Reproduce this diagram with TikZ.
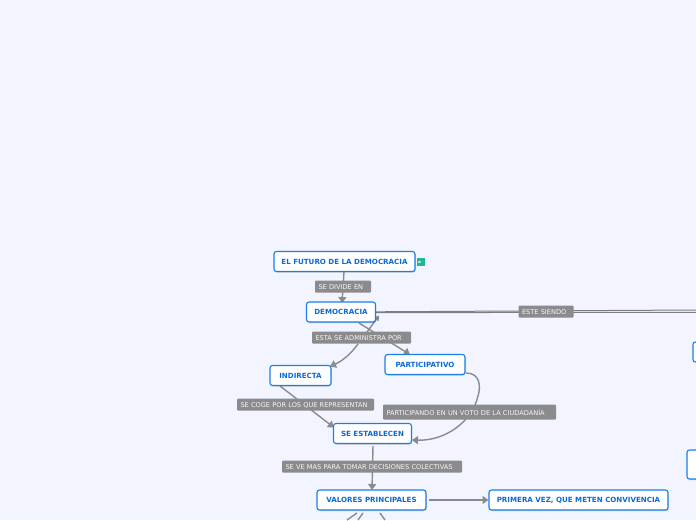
\documentclass[tikz,border=0pt]{standalone}
\usepackage{fontspec}
\setmainfont{DejaVu Sans}
\usetikzlibrary{arrows.meta,calc,shadows}
\definecolor{bg}{HTML}{F2F5FF}
\definecolor{bluec}{HTML}{1A7FE8}
\definecolor{txtc}{HTML}{0A6AD6}
\definecolor{lab}{HTML}{8B8B8E}
\definecolor{lin}{HTML}{8A8B8F}
\definecolor{icon}{HTML}{22B59A}
\tikzset{
 topic/.style={draw=bluec,line width=1.1pt,fill=white,rounded corners=2.5pt,font=\fontsize{7.1}{8}\selectfont\bfseries,text=txtc,inner sep=0pt,anchor=center,drop shadow={shadow xshift=.6pt,shadow yshift=-1pt,opacity=.3,fill=black!60}},
 lbl/.style={fill=lab,rounded corners=1pt,font=\fontsize{6.6}{8}\selectfont,text=white!92!lab,inner sep=0pt,anchor=center,minimum width=#1,text width=#1-7pt,align=left,text height=6pt,text depth=0pt},
 conn/.style={draw=lin,line width=1.4pt},
 arr/.style={conn,-{Triangle[length=6pt,width=8pt]}},
}
\begin{document}
\begin{tikzpicture}[x=1pt,y=-1pt]
\useasboundingbox (0,0) rectangle (696,520);
\fill[bg] (0,0) rectangle (696,520);
\clip (0,0) rectangle (696,520);
% anchors
\coordinate (a1) at (344,272);
\coordinate (a2) at (342,303);
\coordinate (b1) at (367,332);
\coordinate (b2) at (379,315.5);
\coordinate (c1) at (359,323);
\coordinate (c2) at (410,354.5);
\coordinate (d1) at (358,344);
\coordinate (d2) at (330,366.5);
\coordinate (e1) at (280,386);
\coordinate (e2) at (334,427.5);
\coordinate (f1) at (466,373);
\coordinate (fm) at (478,396);
\coordinate (f2) at (412,440);
\coordinate (g1) at (373,446);
\coordinate (g2) at (372,490);
\coordinate (h1) at (429,500);
\coordinate (h2) at (488.5,500);
\coordinate (v1) at (357,513);\coordinate (v1e) at (347,520);
\coordinate (v2) at (363,513);\coordinate (v2e) at (358,520);
\coordinate (v3) at (380,513);\coordinate (v3e) at (385,520);
\coordinate (r1e) at (696,310);\coordinate (r2e) at (696,312.3);
\coordinate (r1s) at (375,311.8);\coordinate (r2s) at (375,312.6);
% connectors
\draw[arr] (a1) to (a2);
\draw[conn,-{Triangle[length=5pt,width=6pt]}] (b1) -- (b2);
\draw[arr] (c1) -- (c2);
\draw[arr] (d1) .. controls (350,355) and (342,361) .. (d2);
\draw[arr] (e1) -- (e2);
\draw[arr] (f1) .. controls (480,373) and (481,386) .. (fm) .. controls (472,422) and (445,441) .. (f2);
\draw[arr] (g1) -- (g2);
\draw[arr] (h1) -- (h2);
\draw[conn] (v1) -- (v1e);
\draw[conn] (v2) -- (v2e);
\draw[conn] (v3) -- (v3e);
\draw[conn,line width=1pt,draw=lin!90!black] (r1s) -- (r1e);
\draw[conn,line width=1pt,draw=lin!90!black] (r2s) -- (r2e);
% nodes
\node[topic,minimum width=141pt,minimum height=20pt] (futuro) at (344.5,261.5) {EL FUTURO DE LA DEMOCRACIA};
\node[topic,minimum width=69pt,minimum height=20pt] (demo) at (341,312) {DEMOCRACIA};
\node[topic,minimum width=80pt,minimum height=20pt] (part) at (425,364.5) {PARTICIPATIVO};
\node[topic,minimum width=61pt,minimum height=20pt] (ind) at (300.5,375.5) {INDIRECTA};
\node[topic,minimum width=78pt,minimum height=20pt] (est) at (372.5,433.5) {SE ESTABLECEN};
\node[topic,minimum width=109pt,minimum height=20pt] (val) at (371.5,500) {VALORES PRINCIPALES};
\node[topic,minimum width=179pt,minimum height=20pt] (prim) at (578.5,500) {PRIMERA VEZ, QUE METEN CONVIVENCIA};
\node[topic,minimum width=40pt,minimum height=20pt] (r1) at (713,352) {};
\node[topic,minimum width=40pt,minimum height=29pt] (r2) at (707,464.5) {};
\node[fill=icon,minimum width=8pt,minimum height=8pt,inner sep=0pt] (ic) at (420.5,262) {};
\fill[white,opacity=.6] (ic.center)++(-2.5,-1) rectangle ++(3,2);
% labels
\node[lbl=56pt,minimum height=12pt] (l1) at (343,286.5) {SE DIVIDE EN};
\node[lbl=99pt,minimum height=12pt] (l2) at (361.5,337.5) {ESTA SE ADMINISTRA POR};
\node[lbl=137pt,minimum height=12pt] (l3) at (305.5,404.5) {SE COGE POR LOS QUE REPRESENTAN};
\node[lbl=173pt,minimum height=15pt] (l4) at (469.5,412) {PARTICIPANDO EN UN VOTO DE LA CIUDADANÍA};
\node[lbl=180pt,minimum height=12pt] (l5) at (372,466.5) {SE VE MAS PARA TOMAR DECISIONES COLECTIVAS};
\node[lbl=55pt,minimum height=12pt] (l6) at (546,311.5) {ESTE SIENDO};
\end{tikzpicture}
\end{document}
